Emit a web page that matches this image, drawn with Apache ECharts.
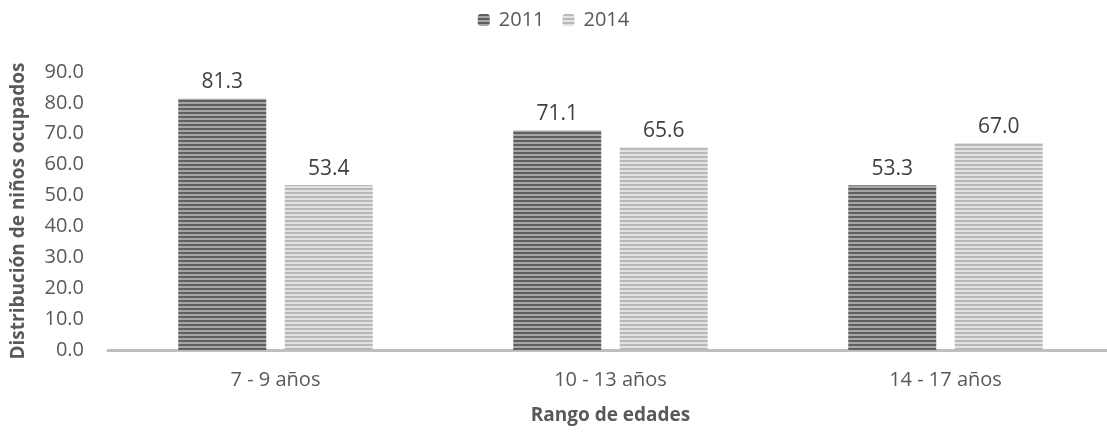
<!DOCTYPE html>
<html>
<head>
<meta charset="utf-8">
<script src="https://cdn.jsdelivr.net/npm/echarts@6/dist/echarts.min.js"></script>
<style>
  html, body { margin: 0; padding: 0; background: #fff; }
  #chart { width: 1107px; height: 432px; }
</style>
</head>
<body>
<div id="chart"></div>
<script>
const categories = ['7 - 9 años', '10 - 13 años', '14 - 17 años'];
const values2011 = [81.3, 71.1, 53.3];
const values2014 = [53.4, 65.6, 67.0];

// striped fill like the original (horizontal lines)
function stripes(dark, light) {
    const c = document.createElement('canvas');
    c.width = 4;
    c.height = 4;
    const ctx = c.getContext('2d');
    ctx.fillStyle = light;
    ctx.fillRect(0, 0, 4, 4);
    ctx.fillStyle = dark;
    ctx.fillRect(0, 0, 4, 2);
    return { image: c, repeat: 'repeat' };
}

const chart = echarts.init(document.getElementById('chart'));
const font = '"Open Sans", sans-serif';

const valueLabel = {
    show: true,
    position: 'top',
    distance: 6,
    fontSize: 21,
    color: '#404040',
    fontFamily: font,
    formatter: p => p.value.toFixed(1)
};

const option = {
    textStyle: { fontFamily: font },
    legend: {
        top: 5,
        left: 'center',
        itemWidth: 12,
        itemHeight: 12,
        itemGap: 18,
        textStyle: { fontSize: 20, color: '#595959', fontFamily: font, padding: [0, 0, 0, 4] },
        data: ['2011', '2014']
    },
    grid: {
        left: 108,
        top: 72,
        width: 1005,
        bottom: 82,
        containLabel: false,
        outerBoundsMode: 'none'
    },
    xAxis: {
        type: 'category',
        data: categories,
        axisLine: { lineStyle: { color: '#bfbfbf', width: 3 } },
        axisTick: { show: false },
        axisLabel: { fontSize: 20, color: '#595959', margin: 20, fontFamily: font },
        name: 'Rango de edades',
        nameLocation: 'middle',
        nameGap: 56,
        nameTextStyle: { fontSize: 19, fontWeight: 'bold', color: '#595959', fontFamily: font }
    },
    yAxis: {
        type: 'value',
        min: 0,
        max: 90,
        interval: 10,
        splitLine: { show: false },
        axisLine: { show: false },
        axisTick: { show: false },
        axisLabel: {
            fontSize: 20,
            color: '#595959',
            margin: 24,
            fontFamily: font,
            formatter: v => v.toFixed(1)
        },
        name: 'Distribución de niños ocupados',
        nameLocation: 'middle',
        nameGap: 80,
        nameTextStyle: { fontSize: 19, fontWeight: 'bold', color: '#595959', fontFamily: font }
    },
    series: [
        {
            name: '2011',
            type: 'bar',
            data: values2011,
            barWidth: 88,
            barGap: '21%',
            itemStyle: { color: stripes('#5f5f5f', '#a6a6a6') },
            label: valueLabel
        },
        {
            name: '2014',
            type: 'bar',
            data: values2014,
            barWidth: 88,
            itemStyle: { color: stripes('#b8b8b8', '#e2e2e2') },
            label: valueLabel
        }
    ]
};

chart.setOption(option);
</script>
</body>
</html>
